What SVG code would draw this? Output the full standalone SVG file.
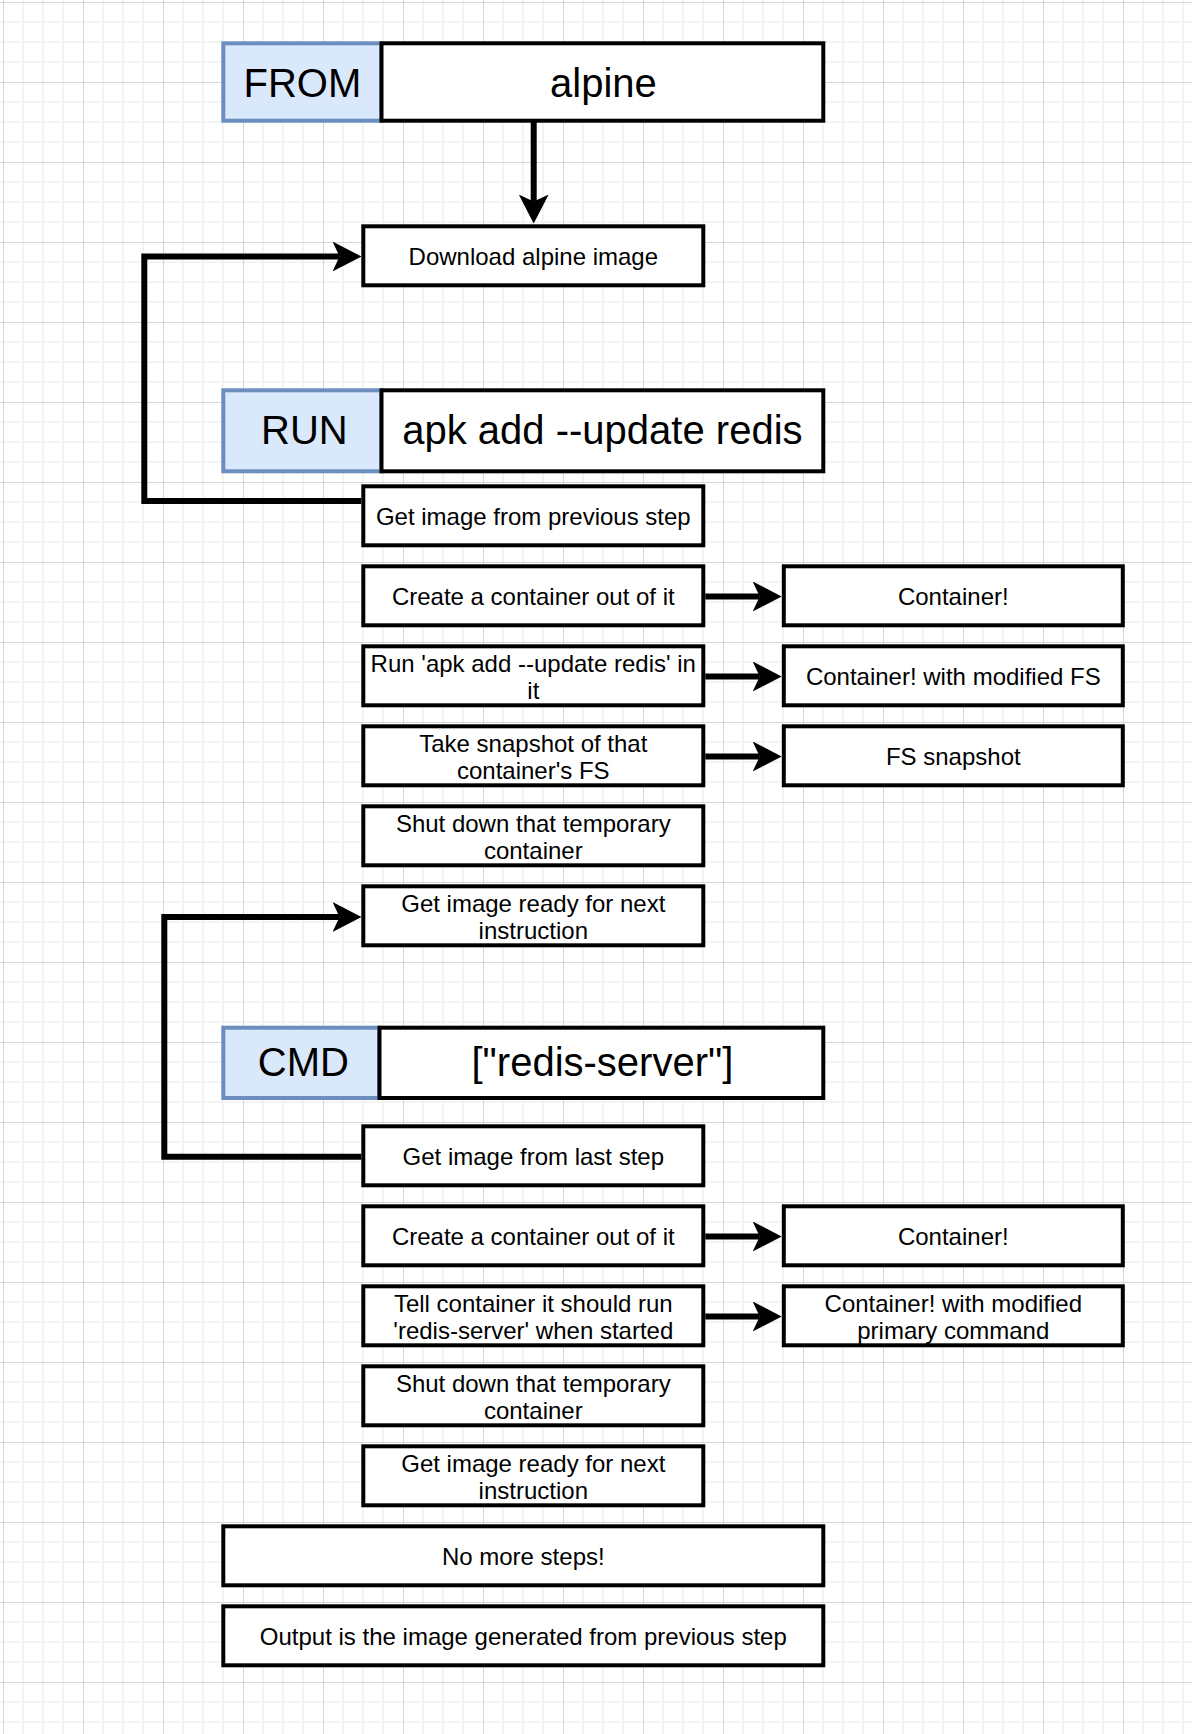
<svg xmlns="http://www.w3.org/2000/svg" width="1192" height="1734" viewBox="0 0 1192 1734">
<defs>
<pattern id="grid" x="0" y="0" width="80" height="80" patternUnits="userSpaceOnUse">
<rect x="22" y="0" width="2" height="80" fill="#f3f3f3"/>
<rect x="42" y="0" width="2" height="80" fill="#f3f3f3"/>
<rect x="62" y="0" width="2" height="80" fill="#f3f3f3"/>
<rect x="0" y="21" width="80" height="2" fill="#f3f3f3"/>
<rect x="0" y="41" width="80" height="2" fill="#f3f3f3"/>
<rect x="0" y="61" width="80" height="2" fill="#f3f3f3"/>
<rect x="3" y="0" width="1" height="80" fill="#d6d6d6"/>
<rect x="0" y="2" width="80" height="1" fill="#d6d6d6"/>
</pattern>
<marker id="arr" markerUnits="userSpaceOnUse" markerWidth="30" markerHeight="30" viewBox="0 0 30 30" refX="7" refY="15" orient="auto">
<path d="M0,0 L29,15 L0,30 L7,15 Z" fill="#000"/>
</marker>
<style>
.box{fill:#fff;stroke:#000;stroke-width:4}
.kw{fill:#dae8fc;stroke:#6c8ebf;stroke-width:4}
.t{font-family:"Liberation Sans",Arial,Helvetica,sans-serif;font-size:24px;fill:#000;text-anchor:middle}
.h{font-family:"Liberation Sans",Arial,Helvetica,sans-serif;font-size:40px;fill:#000;text-anchor:middle}
.edge{fill:none;stroke:#000;stroke-width:6;stroke-linejoin:miter;stroke-linecap:butt}
</style>
</defs>
<rect x="0" y="0" width="1192" height="1734" fill="#fff"/>
<rect x="0" y="0" width="1192" height="1734" fill="url(#grid)"/>

<g id="connectors">
<path class="edge" d="M533.7,121 V201.5" marker-end="url(#arr)"/>
<path class="edge" d="M361.3,501 H144.3 V256.5 H339.5" marker-end="url(#arr)"/>
<path class="edge" d="M705.3,596.5 H759.7" marker-end="url(#arr)"/>
<path class="edge" d="M705.3,676.5 H759.7" marker-end="url(#arr)"/>
<path class="edge" d="M705.3,756.5 H759.7" marker-end="url(#arr)"/>
<path class="edge" d="M361.3,1156.7 H164.3 V917 H339.5" marker-end="url(#arr)"/>
<path class="edge" d="M705.3,1236.5 H759.7" marker-end="url(#arr)"/>
<path class="edge" d="M705.3,1316.5 H759.7" marker-end="url(#arr)"/>
</g>

<g id="from-kw"><rect class="kw" x="223.3" y="43.3" width="158.2" height="77.4"/><text class="h" x="302.4" y="96.5">FROM</text></g>
<g id="from-val"><rect class="box" x="381.5" y="43.3" width="441.8" height="77.4"/><text class="h" x="603.4" y="96.5">alpine</text></g>

<g id="download"><rect class="box" x="363.3" y="226.3" width="340" height="59"/><text class="t" x="533.3" y="264.5">Download alpine image</text></g>

<g id="run-kw"><rect class="kw" x="223.3" y="390.3" width="158.2" height="81"/><text class="h" x="304.4" y="443.5">RUN</text></g>
<g id="run-val"><rect class="box" x="381.5" y="390.3" width="441.8" height="81"/><text class="h" x="602.4" y="443.5">apk add --update redis</text></g>

<g id="get-prev"><rect class="box" x="363.3" y="486.3" width="340" height="59"/><text class="t" x="533.3" y="524.5">Get image from previous step</text></g>
<g id="create-1"><rect class="box" x="363.3" y="566.3" width="340" height="59"/><text class="t" x="533.3" y="604.5">Create a container out of it</text></g>
<g id="run-cmd"><rect class="box" x="363.3" y="646.3" width="340" height="59"/><text class="t" x="533.3" y="671.8">Run 'apk add --update redis' in</text><text class="t" x="533.3" y="698.8">it</text></g>
<g id="snapshot"><rect class="box" x="363.3" y="726.3" width="340" height="59"/><text class="t" x="533.3" y="751.8">Take snapshot of that</text><text class="t" x="533.3" y="778.8">container's FS</text></g>
<g id="shutdown-1"><rect class="box" x="363.3" y="806.3" width="340" height="59"/><text class="t" x="533.3" y="831.8">Shut down that temporary</text><text class="t" x="533.3" y="858.8">container</text></g>
<g id="ready-1"><rect class="box" x="363.3" y="886.3" width="340" height="59"/><text class="t" x="533.3" y="911.8">Get image ready for next</text><text class="t" x="533.3" y="938.8">instruction</text></g>

<g id="container-1"><rect class="box" x="783.8" y="566.3" width="339" height="59"/><text class="t" x="953.3" y="604.5">Container!</text></g>
<g id="container-fs"><rect class="box" x="783.8" y="646.3" width="339" height="59"/><text class="t" x="953.3" y="684.5">Container! with modified FS</text></g>
<g id="fs-snapshot"><rect class="box" x="783.8" y="726.3" width="339" height="59"/><text class="t" x="953.3" y="764.5">FS snapshot</text></g>

<g id="cmd-kw"><rect class="kw" x="223.3" y="1027.7" width="156.2" height="70.3"/><text class="h" x="303.4" y="1075.5">CMD</text></g>
<g id="cmd-val"><rect class="box" x="379.5" y="1027.7" width="443.8" height="70.3"/><text class="h" x="602.4" y="1075.5">["redis-server"]</text></g>

<g id="get-last"><rect class="box" x="363.3" y="1126.3" width="340" height="59"/><text class="t" x="533.3" y="1164.5">Get image from last step</text></g>
<g id="create-2"><rect class="box" x="363.3" y="1206.3" width="340" height="59"/><text class="t" x="533.3" y="1244.5">Create a container out of it</text></g>
<g id="tell"><rect class="box" x="363.3" y="1286.3" width="340" height="59"/><text class="t" x="533.3" y="1311.8">Tell container it should run</text><text class="t" x="533.3" y="1338.8">'redis-server' when started</text></g>
<g id="shutdown-2"><rect class="box" x="363.3" y="1366.3" width="340" height="59"/><text class="t" x="533.3" y="1391.8">Shut down that temporary</text><text class="t" x="533.3" y="1418.8">container</text></g>
<g id="ready-2"><rect class="box" x="363.3" y="1446.3" width="340" height="59"/><text class="t" x="533.3" y="1471.8">Get image ready for next</text><text class="t" x="533.3" y="1498.8">instruction</text></g>

<g id="container-2"><rect class="box" x="783.8" y="1206.3" width="339" height="59"/><text class="t" x="953.3" y="1244.5">Container!</text></g>
<g id="container-cmd"><rect class="box" x="783.8" y="1286.3" width="339" height="59"/><text class="t" x="953.3" y="1311.8">Container! with modified</text><text class="t" x="953.3" y="1338.8">primary command</text></g>

<g id="no-more"><rect class="box" x="223.3" y="1526.3" width="600" height="59"/><text class="t" x="523.3" y="1564.5">No more steps!</text></g>
<g id="output"><rect class="box" x="223.3" y="1606.3" width="600" height="59"/><text class="t" x="523.3" y="1644.5">Output is the image generated from previous step</text></g>
</svg>
